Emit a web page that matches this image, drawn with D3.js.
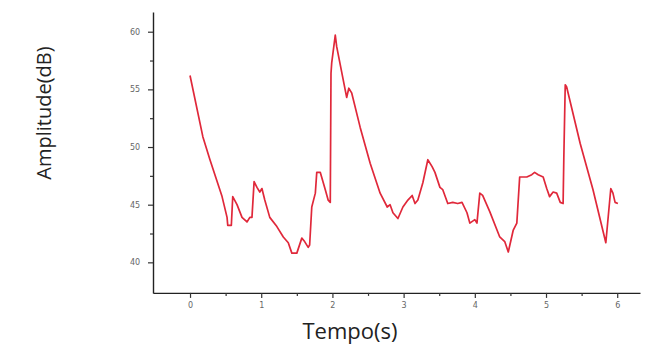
<!DOCTYPE html>
<html>
<head>
<meta charset="utf-8">
<script src="https://cdn.jsdelivr.net/npm/d3@7"></script>
<style>
  html, body { margin: 0; padding: 0; background: #fff; }
  svg { display: block; }
</style>
</head>
<body>
<svg id="chart" width="667" height="349"></svg>
<script>
// ---- Data ----
const timeS = [0.00,0.18,0.28,0.45,0.52,0.53,0.58,0.60,0.66,0.73,0.80,0.84,0.87,0.90,0.94,0.98,1.01,1.05,1.12,1.22,1.31,1.38,1.43,1.50,1.57,1.61,1.66,1.68,1.71,1.76,1.78,1.83,1.90,1.94,1.97,1.98,1.99,2.04,2.06,2.20,2.23,2.27,2.39,2.53,2.67,2.77,2.81,2.85,2.92,2.99,3.06,3.12,3.16,3.20,3.27,3.34,3.40,3.44,3.51,3.55,3.62,3.69,3.76,3.82,3.89,3.93,4.00,4.03,4.07,4.11,4.21,4.35,4.42,4.47,4.54,4.59,4.63,4.73,4.80,4.84,4.89,4.96,5.01,5.05,5.10,5.15,5.20,5.24,5.25,5.27,5.29,5.48,5.66,5.84,5.91,5.94,5.97,6.01];
const amplitudeDb = [56.2,50.9,48.9,45.7,43.9,43.2,43.2,45.7,45.0,43.9,43.5,43.9,43.9,47.0,46.5,46.1,46.4,45.4,43.9,43.1,42.2,41.7,40.8,40.8,42.1,41.8,41.3,41.5,44.8,46.0,47.8,47.8,46.3,45.4,45.2,56.4,57.3,59.7,58.7,54.3,55.1,54.7,51.7,48.6,46.0,44.8,45.0,44.3,43.8,44.8,45.4,45.8,45.1,45.4,46.9,48.9,48.3,47.8,46.5,46.3,45.1,45.2,45.1,45.2,44.3,43.4,43.7,43.4,46.0,45.8,44.4,42.2,41.8,40.9,42.8,43.4,47.4,47.4,47.6,47.8,47.6,47.4,46.4,45.7,46.1,46.0,45.2,45.1,49.0,55.4,55.2,50.3,46.3,41.7,46.4,46.0,45.2,45.1];
const xTickValues = [0,1,2,3,4,5,6];
const xMinorTicks = [0.5,1.5,2.5,3.5,4.5,5.5];
const yTickValues = [40,45,50,55,60];
const yMinorTicks = [42.5,47.5,52.5,57.5];
const xTitle = "Tempo(s)";
const yTitle = "Amplitude(dB)";

const svg = d3.select("#chart");
const x = d3.scaleLinear().domain([-0.52, 6.32]).range([153, 640]);
const y = d3.scaleLinear().domain([37.35, 61.7]).range([292.9, 12.1]);

// axes
const xAxis = d3.axisBottom(x).tickValues(xTickValues).tickSize(5).tickSizeOuter(0).tickFormat(d3.format("d"));
const xMinor = d3.axisBottom(x).tickValues(xMinorTicks).tickSize(3).tickFormat("");
const yAxis = d3.axisLeft(y).tickValues(yTickValues).tickSize(5).tickSizeOuter(0).tickFormat(d3.format("d"));
const yMinor = d3.axisLeft(y).tickValues(yMinorTicks).tickSize(3).tickFormat("");

const gx = svg.append("g").attr("transform", `translate(0,${y(37.35)})`).call(xAxis);
svg.append("g").attr("transform", `translate(0,${y(37.35)})`).call(xMinor).select(".domain").remove();
const gy = svg.append("g").attr("transform", `translate(${x(-0.52)},0)`).call(yAxis);
svg.append("g").attr("transform", `translate(${x(-0.52)},0)`).call(yMinor).select(".domain").remove();

svg.selectAll(".domain").attr("stroke", "#222").attr("stroke-width", 1.4);
svg.selectAll(".tick line").attr("stroke", "#333").attr("stroke-width", 1.2);
gx.selectAll(".tick text").attr("font-family", "DejaVu Sans, sans-serif").attr("font-size", 8).attr("fill", "#666").attr("dy", "0.9em");
gy.selectAll(".tick text").attr("font-family", "DejaVu Sans, sans-serif").attr("font-size", 8).attr("fill", "#666").attr("dx", "-0.6em");

// line
const pts = timeS.map((t, i) => [t, amplitudeDb[i]]);
const line = d3.line().x(d => x(d[0])).y(d => y(d[1]));
svg.append("path").datum(pts)
  .attr("d", line)
  .attr("fill", "none")
  .attr("stroke", "#e0283a")
  .attr("stroke-width", 1.7)
  .attr("stroke-linejoin", "round");

// titles
svg.append("text").text(xTitle)
  .attr("x", 350).attr("y", 339)
  .attr("text-anchor", "middle")
  .attr("font-family", "Open Sans, sans-serif")
  .attr("font-size", 22).attr("fill", "#222");
svg.append("text").text(yTitle)
  .attr("transform", "translate(51,113) rotate(-90)")
  .attr("text-anchor", "middle")
  .attr("font-family", "Open Sans, sans-serif")
  .attr("font-size", 20).attr("fill", "#222");
</script>
</body>
</html>
